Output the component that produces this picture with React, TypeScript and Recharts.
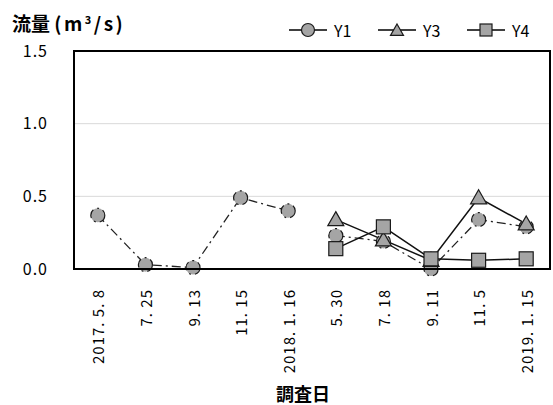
import React from "react"
import { CartesianGrid, Line, LineChart, XAxis, YAxis } from "recharts"

const categories = [
  "2017. 5. 8",
  "7. 25",
  "9. 13",
  "11. 15",
  "2018. 1. 16",
  "5. 30",
  "7. 18",
  "9. 11",
  "11. 5",
  "2019. 1. 15",
]
// Y1 is drawn as two pieces (no line joins 2018.1.16 and 5.30)
const y1First = [0.37, 0.03, 0.01, 0.49, 0.4, null, null, null, null, null]
const y1Second = [null, null, null, null, null, 0.23, 0.19, 0.0, 0.34, 0.29]
const y3 = [null, null, null, null, null, 0.34, 0.2, 0.06, 0.49, 0.31]
const y4 = [null, null, null, null, null, 0.14, 0.29, 0.07, 0.06, 0.07]
const yTicks = [0, 0.5, 1.0, 1.5]

const data = categories.map((cat, i) => ({
  cat,
  y1a: y1First[i],
  y1b: y1Second[i],
  y3: y3[i],
  y4: y4[i],
}))

const W = 553
const H = 405
const MARGIN = { top: 51, right: 3, left: 14, bottom: 0 }
const Y_AXIS_W = 60
const X_AXIS_H = 136

const FONT = "'Noto Sans CJK JP', 'Noto Sans', sans-serif"
const MARK_FILL = "#a5a5a5"
const MARK_STROKE = "#1a1a1a"

function Triangle({ cx, cy, s = 8 }: { cx: number; cy: number; s?: number }) {
  return (
    <path
      d={`M${cx},${cy - s} L${cx + s},${cy + s * 0.75} L${cx - s},${cy + s * 0.75} Z`}
      fill={MARK_FILL}
      stroke={MARK_STROKE}
      strokeWidth={1.2}
    />
  )
}

function Square({ cx, cy, s = 7 }: { cx: number; cy: number; s?: number }) {
  return (
    <rect x={cx - s} y={cy - s} width={s * 2} height={s * 2} fill={MARK_FILL} stroke={MARK_STROKE} strokeWidth={1.2} />
  )
}

const triangleDot = (props: any) => {
  const { cx, cy, value, index } = props
  if (value == null || cy == null) return <g key={`t${index}`} />
  return (
    <g key={`t${index}`}>
      <Triangle cx={cx} cy={cy} />
    </g>
  )
}

const squareDot = (props: any) => {
  const { cx, cy, value, index } = props
  if (value == null || cy == null) return <g key={`s${index}`} />
  return (
    <g key={`s${index}`}>
      <Square cx={cx} cy={cy} />
    </g>
  )
}

const circleDot = { r: 7, fill: MARK_FILL, stroke: MARK_STROKE, strokeWidth: 1.2 }

const XTick = (props: any) => {
  const { x, y, payload } = props
  return (
    <text
      x={0}
      y={0}
      transform={`translate(${x},${y + 12}) rotate(-90)`}
      textAnchor="end"
      dominantBaseline="central"
      fontSize={15}
      letterSpacing={1}
      fontFamily={FONT}
      fill="#000"
    >
      {payload.value}
    </text>
  )
}

function LegendItem({ label, kind }: { label: string; kind: "circle" | "triangle" | "square" }) {
  return (
    <div style={{ display: "flex", alignItems: "center", width: 89 }}>
      <svg width={40} height={18}>
        <line x1={1} y1={9} x2={39} y2={9} stroke="#000" strokeWidth={1.3} />
        {kind === "circle" && <circle cx={20} cy={9} r={6.5} fill={MARK_FILL} stroke={MARK_STROKE} strokeWidth={1.2} />}
        {kind === "triangle" && <Triangle cx={20} cy={9.5} s={6.5} />}
        {kind === "square" && <Square cx={20} cy={9} s={6} />}
      </svg>
      <span style={{ fontSize: 16, marginLeft: 6, fontFamily: FONT }}>{label}</span>
    </div>
  )
}

// plot frame box (same box the chart margins give)
const plotLeft = MARGIN.left + Y_AXIS_W
const plotTop = MARGIN.top
const plotW = W - MARGIN.right - plotLeft
const plotH = H - MARGIN.bottom - X_AXIS_H - plotTop

export default function App() {
  return (
    <div style={{ position: "absolute", left: 0, top: 0, width: W, height: H, background: "#fff" }}>
      <div
        style={{
          position: "absolute",
          left: 12,
          top: 6,
          fontSize: 19,
          fontWeight: 700,
          fontFamily: FONT,
          lineHeight: "26px",
          whiteSpace: "nowrap",
        }}
      >
        流量 <span style={{ letterSpacing: 2.5 }}>(m<sup style={{ fontSize: 11, verticalAlign: "7px" }}>3</sup>/s)</span>
      </div>
      <div style={{ position: "absolute", left: 288, top: 20, display: "flex", lineHeight: "20px" }}>
        <LegendItem label="Y1" kind="circle" />
        <LegendItem label="Y3" kind="triangle" />
        <LegendItem label="Y4" kind="square" />
      </div>
      <LineChart width={W} height={H} data={data} margin={MARGIN}>
        <CartesianGrid vertical={false} stroke="#d9d9d9" strokeWidth={1} />
        <XAxis
          dataKey="cat"
          scale="band"
          height={X_AXIS_H}
          tick={<XTick />}
          tickLine={false}
          axisLine={{ stroke: "#000", strokeWidth: 2 }}
          interval={0}
        />
        <YAxis
          domain={[0, 1.5]}
          ticks={yTicks}
          width={Y_AXIS_W}
          tickLine={false}
          tickSize={0}
          tickMargin={26}
          tickFormatter={(v: number) => v.toFixed(1)}
          tick={{ fontSize: 16, fill: "#000", fontFamily: FONT, letterSpacing: 1 }}
          axisLine={{ stroke: "#000", strokeWidth: 2 }}
        />
        <Line
          dataKey="y1a"
          stroke="#222"
          strokeWidth={1.3}
          strokeDasharray="9 4 2 4"
          dot={circleDot}
          activeDot={false}
          connectNulls={false}
          isAnimationActive={false}
        />
        <Line
          dataKey="y1b"
          stroke="#222"
          strokeWidth={1.3}
          strokeDasharray="9 4 2 4"
          dot={circleDot}
          activeDot={false}
          connectNulls={false}
          isAnimationActive={false}
        />
        <Line
          dataKey="y3"
          stroke="#111"
          strokeWidth={1.5}
          dot={triangleDot}
          activeDot={false}
          isAnimationActive={false}
        />
        <Line
          dataKey="y4"
          stroke="#111"
          strokeWidth={1.5}
          dot={squareDot}
          activeDot={false}
          isAnimationActive={false}
        />
      </LineChart>
      <div
        style={{
          position: "absolute",
          left: plotLeft - 1,
          top: plotTop - 1,
          width: plotW + 2,
          height: plotH + 2,
          border: "2px solid #000",
          boxSizing: "border-box",
          pointerEvents: "none",
        }}
      />
      <div
        style={{
          position: "absolute",
          left: 0,
          width: 606,
          top: 380,
          textAlign: "center",
          fontSize: 18,
          fontWeight: 700,
          fontFamily: FONT,
          lineHeight: "26px",
        }}
      >
        調査日
      </div>
    </div>
  )
}
